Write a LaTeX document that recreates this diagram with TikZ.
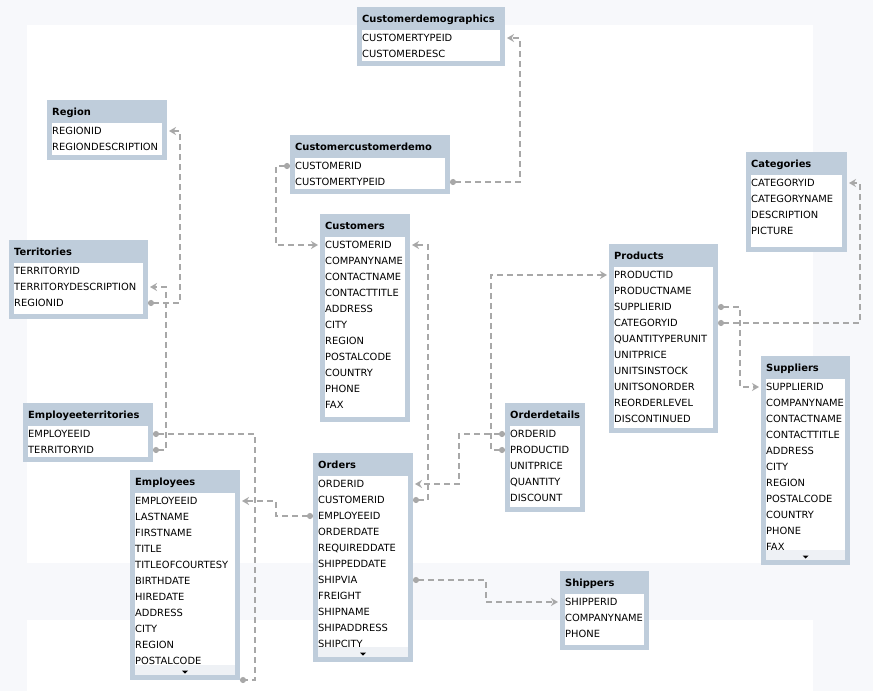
\documentclass[tikz,border=0pt]{standalone}
\usepackage{fontspec}
\setmainfont{DejaVu Sans}
\usetikzlibrary{arrows.meta}

\definecolor{headblue}{HTML}{BFCDDB}
\definecolor{linkgray}{HTML}{A8A8A8}
\definecolor{pagebg}{HTML}{F7F8FB}
\definecolor{morebar}{HTML}{EEF1F5}

\tikzset{
  tablebox/.style={fill=headblue, inner sep=0pt, outer sep=0pt, anchor=north west},
  tabletitle/.style={font=\fontsize{9.9}{12}\selectfont\bfseries, inner sep=0pt, anchor=west,
    text height=7.2pt, text depth=0pt},
  rowtext/.style={font=\fontsize{9.9}{12}\selectfont, inner sep=0pt, anchor=west,
    text height=7.2pt, text depth=0pt},
  link/.style={draw=linkgray, line width=1.6pt, dash pattern=on 6pt off 4pt,
    {Circle[length=6pt,fill=linkgray]}-{Stealth[length=7pt,width=8pt,fill=linkgray]}},
  linkboth/.style={link, {Circle[length=6pt,fill=linkgray]}-{Circle[length=6pt,fill=linkgray]}},
}

% table: name, top left, width, height, title, rows
\newcommand\dbtable[6]{%
  \node[tablebox, minimum width=#3pt, minimum height=#4pt] (#1) at #2 {};
  \fill[white] ([shift={(5pt,-23pt)}]#1.north west) rectangle ([shift={(-5pt,5pt)}]#1.south east);
  \node[tabletitle] (#1-title) at ([shift={(5pt,-12pt)}]#1.north west) {#5};
  \foreach \r [count=\i] in {#6}
    \node[rowtext] (#1-\i) at ([shift={(5pt,{-15pt-16pt*\i})}]#1.north west) {\r};
}
% more rows below
\newcommand\tablemore[1]{%
  \fill[morebar] ([shift={(5pt,15pt)}]#1.south west) rectangle ([shift={(-5pt,5pt)}]#1.south east);
  \fill ([yshift=8pt]#1.south) ++(-3pt,1.5pt) -- ++(6pt,0) -- ++(-3pt,-3pt) -- cycle;
}

\begin{document}
\begin{tikzpicture}[x=1pt, y=1pt]
  \fill[pagebg] (0,0) rectangle (873,-691);
  \fill[white] (27,-25) rectangle (813,-563);
  \fill[white] (27,-620) rectangle (813,-691);
  \useasboundingbox (0,0) rectangle (873,-691);

  % tables
  \dbtable{cdemo}{(357,-7)}{148}{59}{Customerdemographics}{CUSTOMERTYPEID,CUSTOMERDESC}
  \dbtable{region}{(47,-100)}{120}{60}{Region}{REGIONID,REGIONDESCRIPTION}
  \dbtable{ccd}{(290,-135)}{160}{59}{Customercustomerdemo}{CUSTOMERID,CUSTOMERTYPEID}
  \dbtable{customers}{(320,-214)}{90}{208}{Customers}{CUSTOMERID,COMPANYNAME,CONTACTNAME,
    CONTACTTITLE,ADDRESS,CITY,REGION,POSTALCODE,COUNTRY,PHONE,FAX}
  \dbtable{territories}{(9,-240)}{139}{79}{Territories}{TERRITORYID,TERRITORYDESCRIPTION,REGIONID}
  \dbtable{categories}{(746,-152)}{101}{100}{Categories}{CATEGORYID,CATEGORYNAME,DESCRIPTION,PICTURE}
  \dbtable{products}{(609,-244)}{109}{189}{Products}{PRODUCTID,PRODUCTNAME,SUPPLIERID,CATEGORYID,
    QUANTITYPERUNIT,UNITPRICE,UNITSINSTOCK,UNITSONORDER,REORDERLEVEL,DISCONTINUED}
  \dbtable{suppliers}{(761,-356)}{89}{209}{Suppliers}{SUPPLIERID,COMPANYNAME,CONTACTNAME,
    CONTACTTITLE,ADDRESS,CITY,REGION,POSTALCODE,COUNTRY,PHONE,FAX}
  \dbtable{orderdetails}{(505,-403)}{80}{109}{Orderdetails}{ORDERID,PRODUCTID,UNITPRICE,QUANTITY,DISCOUNT}
  \dbtable{empterr}{(23,-403)}{130}{59}{Employeeterritories}{EMPLOYEEID,TERRITORYID}
  \dbtable{employees}{(130,-470)}{110}{210}{Employees}{EMPLOYEEID,LASTNAME,FIRSTNAME,TITLE,
    TITLEOFCOURTESY,BIRTHDATE,HIREDATE,ADDRESS,CITY,REGION,POSTALCODE}
  \dbtable{orders}{(313,-453)}{100}{209}{Orders}{ORDERID,CUSTOMERID,EMPLOYEEID,ORDERDATE,
    REQUIREDDATE,SHIPPEDDATE,SHIPVIA,FREIGHT,SHIPNAME,SHIPADDRESS,SHIPCITY}
  \dbtable{shippers}{(560,-571)}{89}{79}{Shippers}{SHIPPERID,COMPANYNAME,PHONE}
  \tablemore{employees}
  \tablemore{orders}
  \tablemore{suppliers}

  % relations
  \draw[link] (ccd.east |- ccd-2) -| ([xshift=15pt]cdemo.east |- cdemo-1) -- ([xshift=2pt]cdemo.east |- cdemo-1);
  \draw[link] (ccd.west |- ccd-1) -| ([xshift=-44pt]customers.west |- customers-1) -- ([xshift=-2pt]customers.west |- customers-1);
  \draw[link] (territories.east |- territories-3) -| ([xshift=13pt]region.east |- region-1) -- ([xshift=2pt]region.east |- region-1);
  \draw[link] (empterr.east |- empterr-2) -| ([xshift=18pt]territories.east |- territories-2) -- ([xshift=2pt]territories.east |- territories-2);
  \draw[linkboth] (empterr.east |- empterr-1) -| ([xshift=15pt]employees.south east) -- (employees.south east);
  \draw[link] (orders.east |- orders-2) -| ([xshift=18pt]customers.east |- customers-1) -- ([xshift=2pt]customers.east |- customers-1);
  \draw[link] (orderdetails.west |- orderdetails-1) -| ([xshift=-46pt]orderdetails.west |- orders-1) -- ([xshift=2pt]orders.east |- orders-1);
  \draw[link] (orderdetails.west |- orderdetails-2) -| ([xshift=-14pt]orderdetails.west |- products-1) -- ([xshift=-2pt]products.west |- products-1);
  \draw[link] (products.east |- products-3) -| ([xshift=22pt]products.east |- suppliers-1) -- ([xshift=-2pt]suppliers.west |- suppliers-1);
  \draw[link] (products.east |- products-4) -| ([xshift=13pt]categories.east |- categories-1) -- ([xshift=2pt]categories.east |- categories-1);
  \draw[link] (orders.east |- orders-7) -| ([xshift=73pt]orders.east |- shippers-1) -- ([xshift=-2pt]shippers.west |- shippers-1);
  \draw[link] (orders.west |- orders-3) -| ([xshift=-37pt]orders.west |- employees-1) -- ([xshift=2pt]employees.east |- employees-1);
\end{tikzpicture}
\end{document}
